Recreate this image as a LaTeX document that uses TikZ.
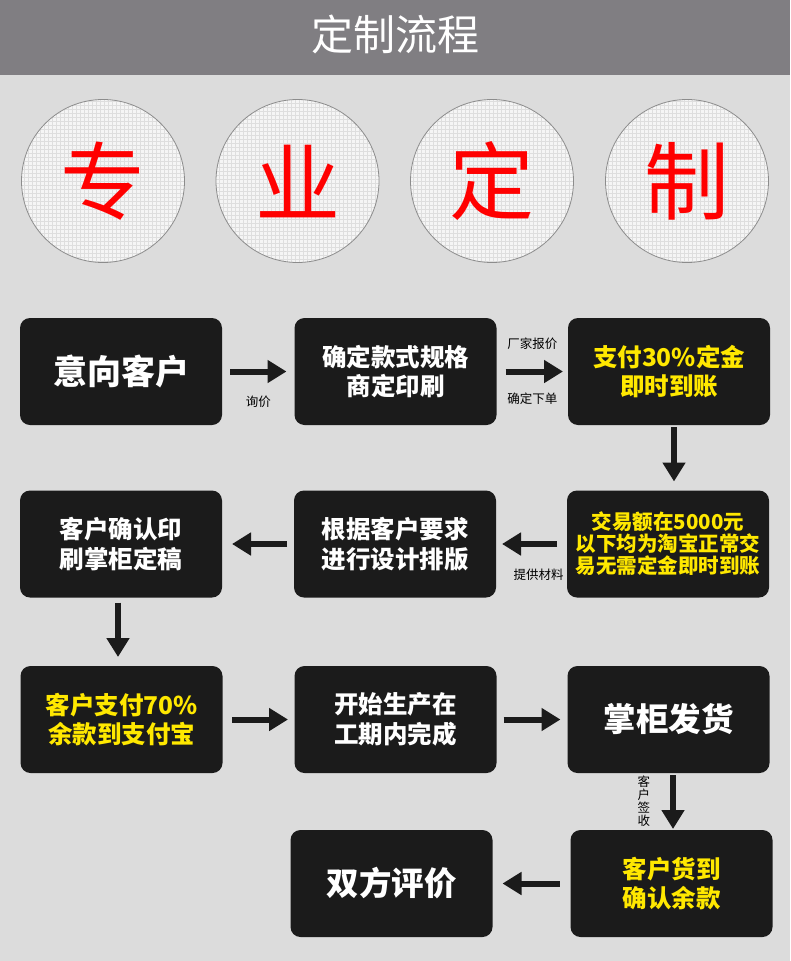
\documentclass[tikz,border=0pt]{standalone}
\usepackage{fontspec}
\setmainfont{Noto Sans CJK SC}
\usepackage{tikz}
\usetikzlibrary{arrows.meta, positioning}
\definecolor{mybg}{RGB}{220,220,220}
\definecolor{myhdr}{RGB}{128,126,130}
\definecolor{mybox}{RGB}{27,27,27}
\definecolor{myyellow}{RGB}{255,232,0}
\definecolor{myred}{RGB}{255,0,0}
\definecolor{mygrid}{RGB}{222,222,222}
\definecolor{mydisc}{RGB}{245,245,245}
\definecolor{myrim}{RGB}{140,140,140}
\tikzset{
  flowbox/.style={rectangle, fill=mybox, text=white,
    minimum width=202pt, minimum height=107pt, rounded corners=10pt,
    align=center, inner sep=0pt, outer sep=0pt,
    font=\bfseries\fontsize{24.5}{29.5}\selectfont},
  hlbox/.style={flowbox, text=myyellow},
  bigtext/.style={font=\bfseries\fontsize{32.5}{36}\selectfont},
  badge/.style={circle, fill=mydisc, draw=myrim, line width=0.8pt,
    minimum size=163pt, inner sep=0pt, text=myred,
    font=\fontsize{85}{85}\selectfont,
    path picture={\draw[mygrid, line width=0.6pt]
      (path picture bounding box.south west) grid[step=4pt]
      (path picture bounding box.north east);}},
  flow/.style={-{Triangle[length=19pt, width=22pt]}, line width=6pt,
    color=mybox, shorten <=8pt, shorten >=8pt},
  tag/.style={font=\fontsize{12.5}{13}\selectfont, inner sep=1pt, text=black}
}
\begin{document}
\begin{tikzpicture}[x=1pt, y=-1pt]
  % Background and header bar
  \fill[mybg] (0,0) rectangle (790,961);
  \useasboundingbox (0,0) rectangle (790,961);
  \fill[myhdr] (0,0) rectangle (790,75);
  \node[text=white, font=\fontsize{42}{42}\selectfont] (title) at (395,34) {定制流程};

  % Four round badges
  \node[badge] (c1) at (103,181) {专};
  \node[badge] (c2) at (297.5,181) {业};
  \node[badge] (c3) at (492,181) {定};
  \node[badge] (c4) at (687,181) {制};

  % Process boxes
  \node[flowbox, bigtext, font=\bfseries\fontsize{34}{38}\selectfont] (intent) at (121,371.5) {意向客户};
  \node[flowbox] (spec) at (395.5,371.5) {确定款式规格\\商定印刷};
  \node[hlbox] (deposit) at (669,371.5) {支付30\%定金\\即时到账};
  \node[hlbox, font=\bfseries\fontsize{20.5}{22}\selectfont] (small) at (668,544) {交易额在5000元\\以下均为淘宝正常交\\易无需定金即时到账};
  \node[flowbox] (design) at (395,544) {根据客户要求\\进行设计排版};
  \node[flowbox] (proof) at (121,544) {客户确认印\\刷掌柜定稿};
  \node[hlbox] (balance) at (121.5,719.5) {客户支付70\%\\余款到支付宝};
  \node[flowbox] (produce) at (395.5,719.5) {开始生产在\\工期内完成};
  \node[flowbox, bigtext] (ship) at (668.5,719.5) {掌柜发货};
  \node[hlbox] (receive) at (671.5,883.5) {客户货到\\确认余款};
  \node[flowbox, bigtext] (review) at (391.5,883.5) {双方评价};

  % Connectors
  \draw[flow] (intent) -- (spec) node[midway, below=20.5pt, tag] {询价};
  \draw[flow, shorten <=9pt, shorten >=5pt] (spec) -- (deposit)
    node[midway, above=18pt, tag] {厂家报价}
    node[midway, below=17pt, tag] {确定下单};
  \draw[flow, shorten <=2pt, shorten >=9pt] ([xshift=5pt]deposit.south) -- ([xshift=6pt]small.north);
  \draw[flow, shorten <=10pt, shorten >=6pt] (small) -- (design)
    node[midway, below=20.5pt, xshift=7pt, tag] {提供材料};
  \draw[flow, shorten <=7pt, shorten >=10pt] (design) -- (proof);
  \draw[flow, shorten <=5pt, shorten >=9pt] ([xshift=-3pt]proof.south) -- ([xshift=-3.5pt]balance.north);
  \draw[flow, shorten <=9.5pt, shorten >=6.5pt] (balance) -- (produce);
  \draw[flow, shorten <=7pt, shorten >=7pt] (produce) -- (ship);
  \draw[flow, shorten <=2pt, shorten >=1pt] ([xshift=4.5pt]ship.south) -- ([xshift=1.5pt]receive.north)
    node[midway, left=19pt, tag, align=center] {客\\户\\签\\收};
  \draw[flow, shorten <=11pt, shorten >=10pt] (receive) -- (review);
\end{tikzpicture}
\end{document}
